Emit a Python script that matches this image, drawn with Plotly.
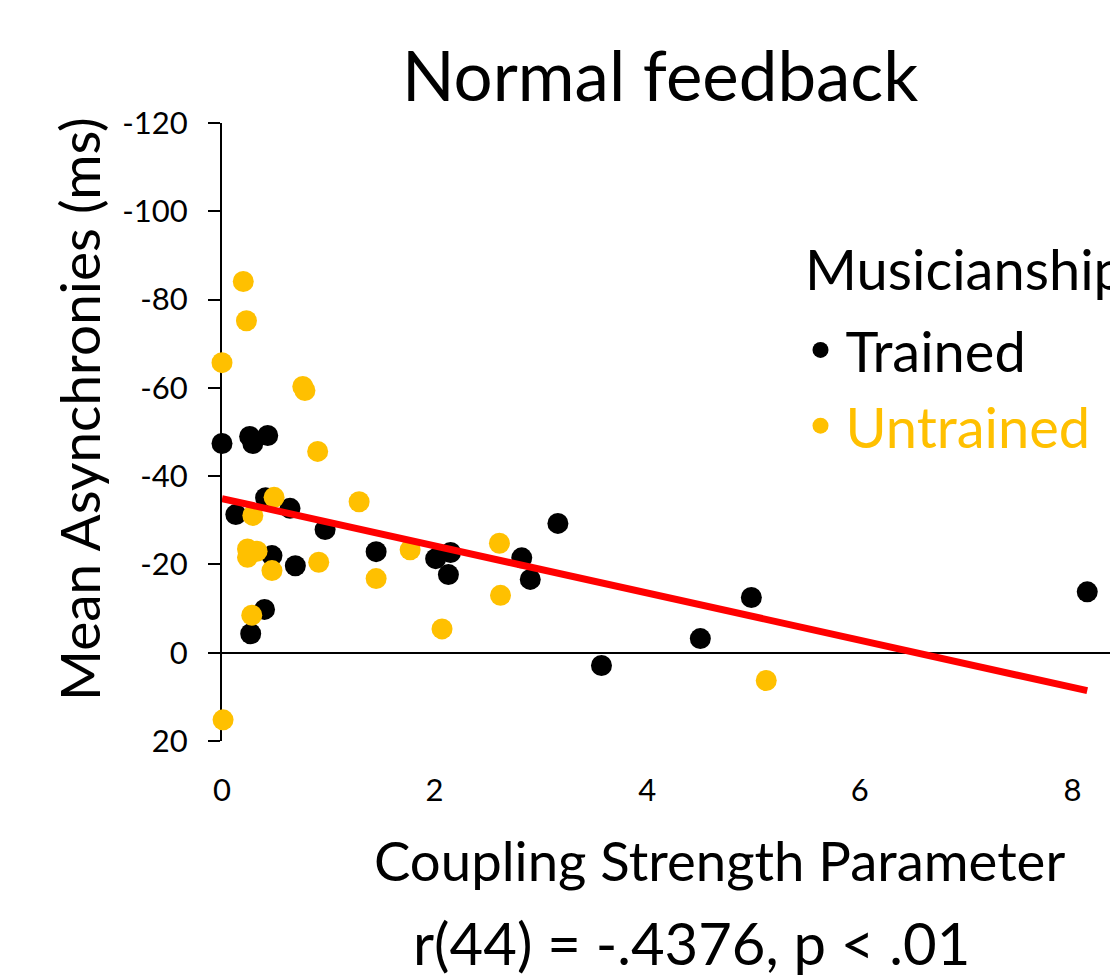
import plotly.graph_objects as go

# ---- data ----
trained_x = [0.00, 0.13, 0.26, 0.29, 0.43, 0.41, 0.47, 0.40, 0.27, 0.64, 0.69, 0.97,
             1.45, 2.01, 2.15, 2.13, 2.82, 2.90, 3.16, 3.57, 4.50, 4.98, 8.14]
trained_y = [-47.4, -31.3, -49.0, -47.4, -49.2, -35.1, -22.0, -9.8, -4.3, -32.7, -19.7, -27.9,
             -22.9, -21.3, -22.7, -17.7, -21.5, -16.6, -29.3, 2.9, -3.2, -12.5, -13.8]

untrained_x = [0.00, 0.20, 0.23, 0.76, 0.78, 0.90, 0.49, 0.29, 0.24, 0.33, 0.24, 0.47,
               0.91, 0.28, 0.01, 1.29, 1.45, 1.77, 2.07, 2.61, 2.62, 5.12]
untrained_y = [-65.7, -84.1, -75.2, -60.3, -59.4, -45.6, -35.2, -31.1, -23.5, -23.0, -21.6, -18.6,
               -20.5, -8.5, 15.2, -34.2, -16.8, -23.3, -5.4, -24.8, -13.0, 6.3]

trend_x = [0.0, 8.14]
trend_y = [-34.9, 8.6]

y_tickvals = [-120, -100, -80, -60, -40, -20, 0, 20]
y_ticktext = ["-120", "-100", "-80", "-60", "-40", "-20", "0", "20"]
x_tickvals = [0, 2, 4, 6, 8]
x_ticktext = ["0", "2", "4", "6", "8"]

BLACK = "#000000"
GOLD = "#FFC000"
RED = "#FF0000"
FONT = "Lato"

fig = go.Figure()
fig.add_trace(go.Scatter(x=trained_x, y=trained_y, mode="markers", name="Trained",
                         marker=dict(color=BLACK, size=21), cliponaxis=False))
fig.add_trace(go.Scatter(x=untrained_x, y=untrained_y, mode="markers",
                         name=f"<span style='color:{GOLD}'>Untrained</span>",
                         marker=dict(color=GOLD, size=21), cliponaxis=False))
fig.add_trace(go.Scatter(x=trend_x, y=trend_y, mode="lines", showlegend=False,
                         line=dict(color=RED, width=7), cliponaxis=False))

PH = 618  # plot height px
PW = 888  # plot width px


def px_x(p):
    return (p - 222) / PW


def px_y(p):
    return 1 - (p - 123) / PH


fig.update_layout(
    width=1110, height=976,
    margin=dict(l=222, r=0, t=123, b=235),
    paper_bgcolor="white", plot_bgcolor="white",
    font=dict(family=FONT, color=BLACK),
    showlegend=True,
    legend=dict(x=px_x(795.5), y=px_y(307), xanchor="left", yanchor="top",
                font=dict(size=56, family=FONT, color=BLACK),
                bgcolor="rgba(0,0,0,0)", itemwidth=40, tracegroupgap=0),
    xaxis=dict(range=[0, 8.354], showgrid=False, zeroline=False, showline=False,
               tickmode="array", tickvals=x_tickvals, ticktext=x_ticktext,
               ticks="outside", ticklen=22, tickcolor="rgba(0,0,0,0)",
               tickfont=dict(size=31, family=FONT, color=BLACK), layer="below traces"),
    yaxis=dict(range=[20, -120], showgrid=False, zeroline=True, zerolinecolor=BLACK,
               zerolinewidth=2, showline=True, linecolor=BLACK, linewidth=2,
               tickmode="array", tickvals=y_tickvals, ticktext=y_ticktext,
               ticks="outside", ticklen=12, tickwidth=2, tickcolor=BLACK,
               ticklabelstandoff=14,
               tickfont=dict(size=31, family=FONT, color=BLACK), layer="below traces"),
    annotations=[
        dict(text="Normal feedback", xref="paper", yref="paper", x=px_x(660),
             y=px_y(74), xanchor="center", yanchor="middle", showarrow=False,
             font=dict(size=69, family=FONT, color=BLACK)),
        dict(text="Mean Asynchronies (ms)", xref="paper", yref="paper", x=px_x(79),
             y=px_y(409), xanchor="center", yanchor="middle", showarrow=False,
             textangle=-90, font=dict(size=55, family=FONT, color=BLACK)),
        dict(text="Coupling Strength Parameter", xref="paper", yref="paper",
             x=px_x(719), y=px_y(860), xanchor="center", yanchor="middle",
             showarrow=False, font=dict(size=54.5, family=FONT, color=BLACK)),
        dict(text="r(44) = -.4376, p < .01", xref="paper", yref="paper",
             x=px_x(691), y=px_y(942), xanchor="center", yanchor="middle",
             showarrow=False, font=dict(size=58, family=FONT, color=BLACK)),
        dict(text="Musicianship", xref="paper", yref="paper",
             x=px_x(803), y=px_y(268), xanchor="left", yanchor="middle",
             showarrow=False, font=dict(size=56, family=FONT, color=BLACK)),
    ],
)

fig.write_html("out.html")
